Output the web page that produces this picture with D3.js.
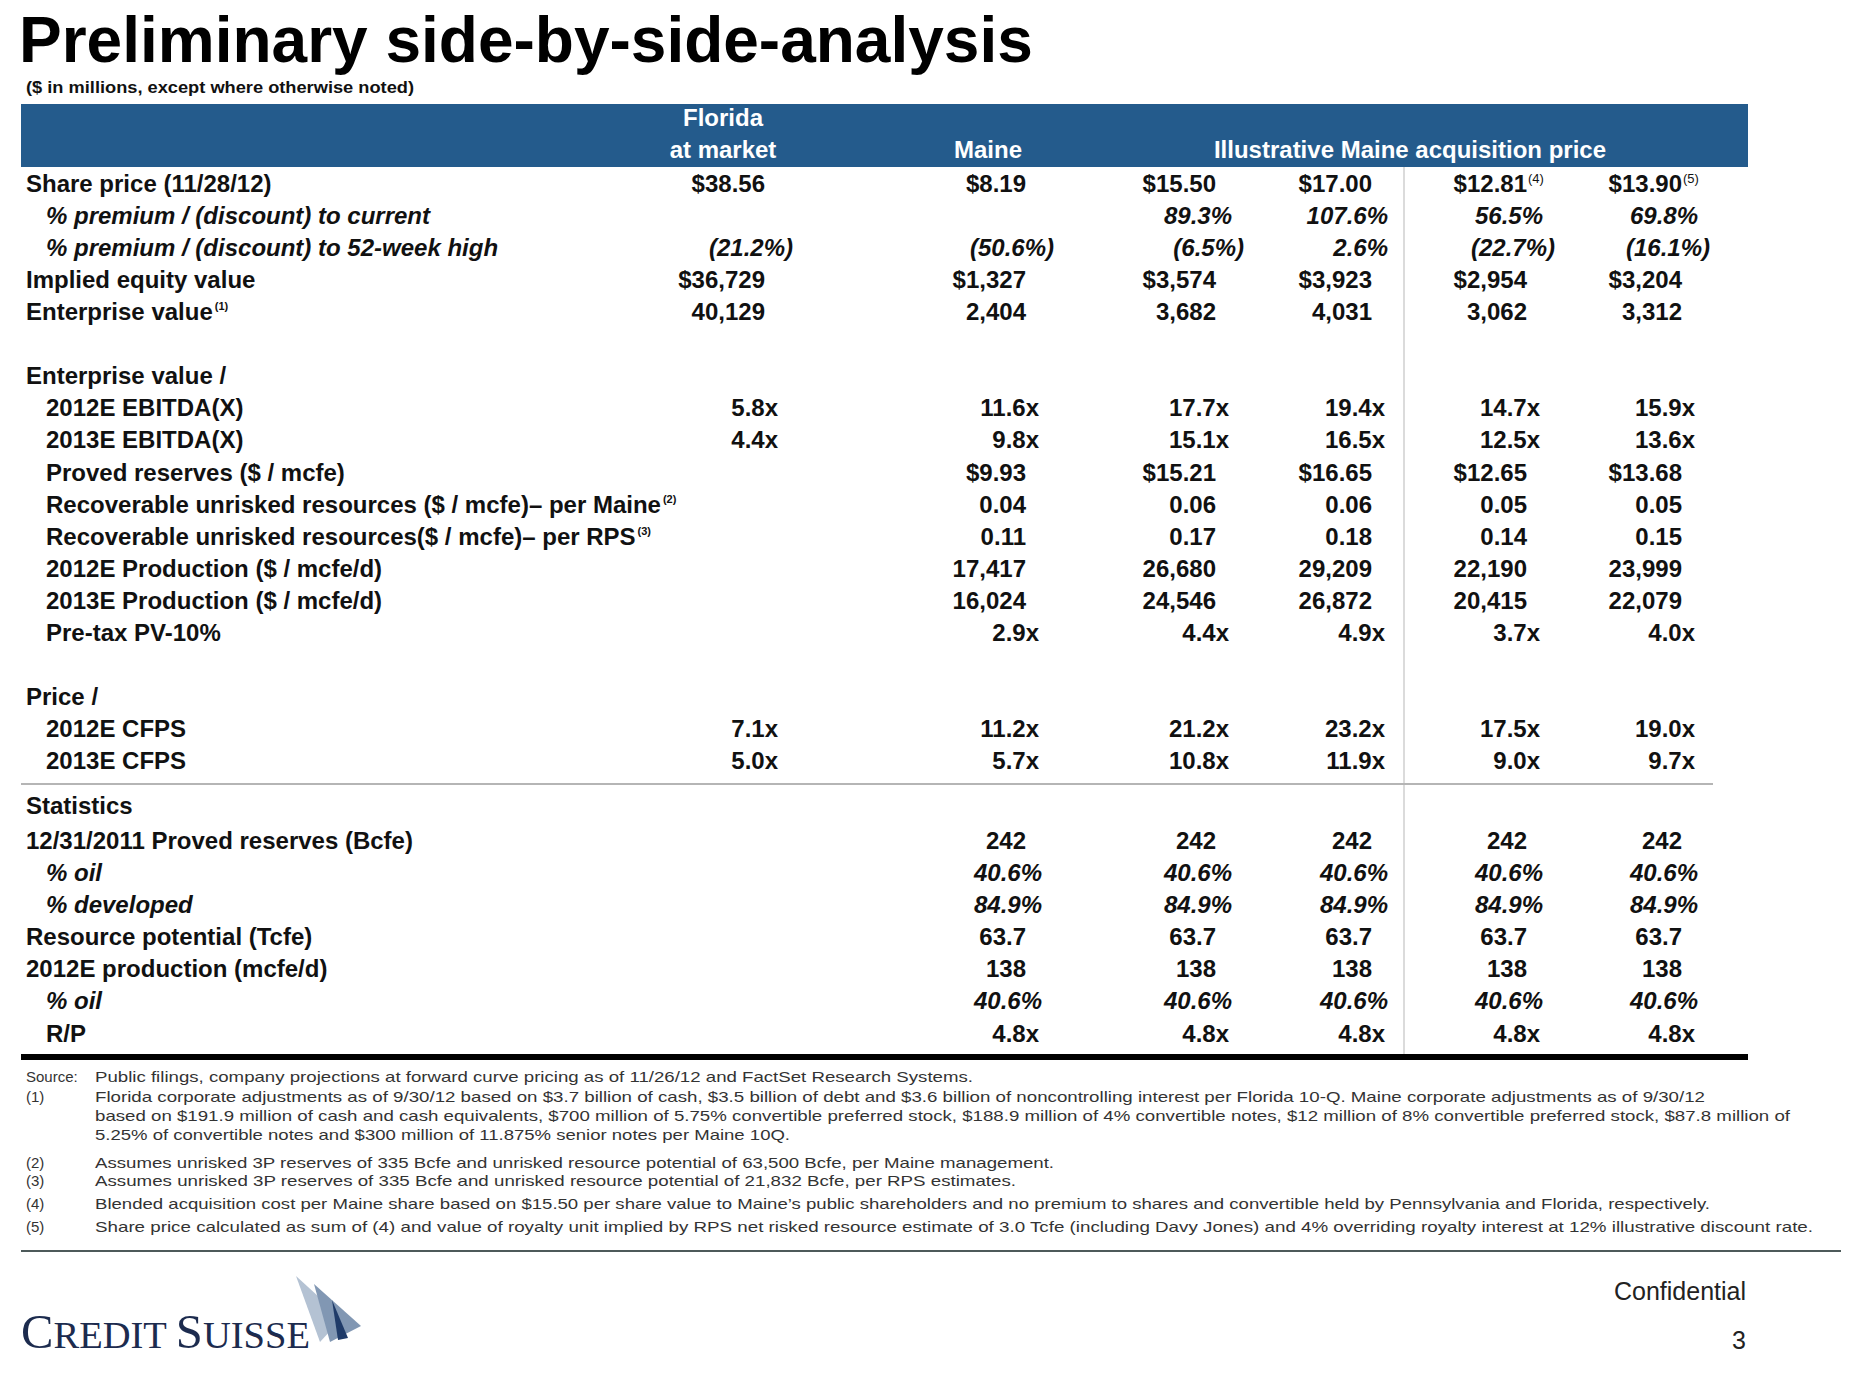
<!DOCTYPE html>
<html>
<head>
<meta charset="utf-8">
<script src="https://cdn.jsdelivr.net/npm/d3@7"></script>
<style>
  body { margin: 0; background: #fff; }
  svg { display: block; font-family: "Liberation Sans", Arial, sans-serif; }
</style>
</head>
<body>
<svg id="chart"></svg>
<script>
// ---- data ----
const rowLabels = [
    "Share price (11/28/12)",
    "% premium / (discount) to current",
    "% premium / (discount) to 52-week high",
    "Implied equity value",
    "Enterprise value",
    "Enterprise value /",
    "2012E EBITDA(X)",
    "2013E EBITDA(X)",
    "Proved reserves ($ / mcfe)",
    "Recoverable unrisked resources ($ / mcfe)\u2013 per Maine",
    "Recoverable unrisked resources($ / mcfe)\u2013 per RPS",
    "2012E Production ($ / mcfe/d)",
    "2013E Production ($ / mcfe/d)",
    "Pre-tax PV-10%",
    "Price /",
    "2012E CFPS",
    "2013E CFPS",
    "Statistics",
    "12/31/2011 Proved reserves (Bcfe)",
    "% oil",
    "% developed",
    "Resource potential (Tcfe)",
    "2012E production (mcfe/d)",
    "% oil",
    "R/P"
];
const rowNotes = { 4: "(1)", 9: "(2)", 10: "(3)" };
const rowFormats = ["usd2", "pct", "pctParen", "usd0", "int", null, "mult", "mult", "usd2", "dec2", "dec2",
    "int", "int", "mult", null, "mult", "mult", null, "int", "pct", "pct", "dec1", "int", "pct", "mult"];

const columnKeys = ["florida", "maine", "p1550", "p1700", "p1281", "p1390"];

const floridaValues = [38.56, null, -21.2, 36729, 40129, null, 5.8, 4.4, null, null, null, null, null, null,
    null, 7.1, 5.0, null, null, null, null, null, null, null, null];
const maineValues = [8.19, null, -50.6, 1327, 2404, null, 11.6, 9.8, 9.93, 0.04, 0.11, 17417, 16024, 2.9,
    null, 11.2, 5.7, null, 242, 40.6, 84.9, 63.7, 138, 40.6, 4.8];
const p1550Values = [15.50, 89.3, -6.5, 3574, 3682, null, 17.7, 15.1, 15.21, 0.06, 0.17, 26680, 24546, 4.4,
    null, 21.2, 10.8, null, 242, 40.6, 84.9, 63.7, 138, 40.6, 4.8];
const p1700Values = [17.00, 107.6, 2.6, 3923, 4031, null, 19.4, 16.5, 16.65, 0.06, 0.18, 29209, 26872, 4.9,
    null, 23.2, 11.9, null, 242, 40.6, 84.9, 63.7, 138, 40.6, 4.8];
const p1281Values = [12.81, 56.5, -22.7, 2954, 3062, null, 14.7, 12.5, 12.65, 0.05, 0.14, 22190, 20415, 3.7,
    null, 17.5, 9.0, null, 242, 40.6, 84.9, 63.7, 138, 40.6, 4.8];
const p1390Values = [13.90, 69.8, -16.1, 3204, 3312, null, 15.9, 13.6, 13.68, 0.05, 0.15, 23999, 22079, 4.0,
    null, 19.0, 9.7, null, 242, 40.6, 84.9, 63.7, 138, 40.6, 4.8];
const valueNotes = { p1281: "(4)", p1390: "(5)" };

const footnotes = [
    ["Source:", "Public filings, company projections at forward curve pricing as of 11/26/12 and FactSet Research Systems."],
    ["(1)", "Florida corporate adjustments as of 9/30/12 based on $3.7 billion of cash, $3.5 billion of debt and $3.6 billion of noncontrolling interest per Florida 10-Q. Maine corporate adjustments as of 9/30/12"],
    ["", "based on $191.9 million of cash and cash equivalents, $700 million of 5.75% convertible preferred stock, $188.9 million of 4% convertible notes, $12 million of 8% convertible preferred stock, $87.8 million of"],
    ["", "5.25% of convertible notes and $300 million of 11.875% senior notes per Maine 10Q."],
    ["(2)", "Assumes unrisked 3P reserves of 335 Bcfe and unrisked resource potential of 63,500 Bcfe, per Maine management."],
    ["(3)", "Assumes unrisked 3P reserves of 335 Bcfe and unrisked resource potential of 21,832 Bcfe, per RPS estimates."],
    ["(4)", "Blended acquisition cost per Maine share based on $15.50 per share value to Maine\u2019s public shareholders and no premium to shares and convertible held by Pennsylvania and Florida, respectively."],
    ["(5)", "Share price calculated as sum of (4) and value of royalty unit implied by RPS net risked resource estimate of 3.0 Tcfe (including Davy Jones) and 4% overriding royalty interest at 12% illustrative discount rate."]
];

// ---- layout ----
const width = 1856, height = 1395;
const rowSlot = [0, 1, 2, 3, 4, 6, 7, 8, 9, 10, 11, 12, 13, 14, 16, 17, 18, 19.4, 20.5, 21.5, 22.5, 23.5, 24.5, 25.5, 26.5];
const indented = [1, 2, 6, 7, 8, 9, 10, 11, 12, 13, 15, 16, 19, 20, 23, 24];
const italicRows = [1, 2, 19, 20, 23];
const footY = [1082, 1102, 1121, 1140, 1168, 1186, 1209, 1232];
const footEnd = [973, 1705, 1790, 790, 1054, 1016, 1710, 1813];

const values = { florida: floridaValues, maine: maineValues, p1550: p1550Values,
    p1700: p1700Values, p1281: p1281Values, p1390: p1390Values };

const y = d3.scaleLinear().domain([0, 26.5]).range([183.5, 1033]);
const colRight = d3.scaleOrdinal().domain(columnKeys).range([778, 1039, 1229, 1385, 1540, 1695]);

const fmt = {
    usd2: v => "$" + d3.format(",.2f")(v),
    usd0: v => "$" + d3.format(",")(v),
    int: d3.format(","),
    pct: v => d3.format(".1f")(v) + "%",
    pctParen: v => v < 0 ? "(" + d3.format(".1f")(-v) + "%)" : d3.format(".1f")(v) + "%",
    mult: v => d3.format(".1f")(v) + "x",
    dec2: d3.format(".2f"),
    dec1: d3.format(".1f")
};
function offset(f, v) {
    if (f === "mult") return 0;
    if (f === "pct") return 3;
    if (f === "pctParen") return v < 0 ? 15 : 3;
    return -13;
}

const svg = d3.select("#chart").attr("width", width).attr("height", height);

// title block
svg.append("text").attr("x", 19).attr("y", 62)
    .attr("font-size", 64).attr("font-weight", "bold").attr("fill", "#000")
    .text("Preliminary side-by-side-analysis");
svg.append("text").attr("x", 26).attr("y", 93)
    .attr("font-size", 16).attr("font-weight", "bold").attr("fill", "#111")
    .attr("textLength", 388).attr("lengthAdjust", "spacingAndGlyphs")
    .text("($ in millions, except where otherwise noted)");

// header band
svg.append("rect").attr("x", 21).attr("y", 104).attr("width", 1727).attr("height", 63).attr("fill", "#245b8c");
const head = svg.append("g").attr("fill", "#fff").attr("font-weight", "bold").attr("font-size", 24)
    .attr("text-anchor", "middle");
head.append("text").attr("x", 723).attr("y", 126).text("Florida");
head.append("text").attr("x", 723).attr("y", 158).text("at market");
head.append("text").attr("x", 988).attr("y", 158).text("Maine");
head.append("text").attr("x", 1410).attr("y", 158).text("Illustrative Maine acquisition price");

// rules
svg.append("line").attr("x1", 1404).attr("x2", 1404).attr("y1", 167).attr("y2", 1054)
    .attr("stroke", "#cfcfcf").attr("stroke-width", 1.5);
svg.append("line").attr("x1", 21).attr("x2", 1713).attr("y1", 784).attr("y2", 784)
    .attr("stroke", "#b5b5b5").attr("stroke-width", 2);
svg.append("line").attr("x1", 21).attr("x2", 1748).attr("y1", 1057).attr("y2", 1057)
    .attr("stroke", "#000").attr("stroke-width", 6);

// row labels
const labels = svg.append("g").attr("font-size", 24).attr("font-weight", "bold").attr("fill", "#111");
labels.selectAll("text")
    .data(rowLabels)
    .join("text")
    .attr("x", (d, i) => indented.includes(i) ? 46 : 26)
    .attr("y", (d, i) => y(rowSlot[i]) + 8.5)
    .attr("font-style", (d, i) => italicRows.includes(i) ? "italic" : null)
    .each(function (d, i) {
        const t = d3.select(this);
        t.append("tspan").text(d);
        if (rowNotes[i]) {
            t.append("tspan").attr("font-size", 11).attr("dy", -10).attr("dx", 2).text(rowNotes[i]);
        }
    });

// values
const cells = [];
columnKeys.forEach(c => {
    values[c].forEach((v, i) => {
        if (v !== null && rowFormats[i]) cells.push({ col: c, row: i, v: v });
    });
});
const body = svg.append("g").attr("font-size", 24).attr("font-weight", "bold").attr("fill", "#111")
    .attr("text-anchor", "end");
body.selectAll("text")
    .data(cells)
    .join("text")
    .attr("x", d => colRight(d.col) + offset(rowFormats[d.row], d.v))
    .attr("y", d => y(rowSlot[d.row]) + 8.5)
    .attr("font-style", d => italicRows.includes(d.row) ? "italic" : null)
    .text(d => fmt[rowFormats[d.row]](d.v));

// superscripts on share price
body.selectAll("text.note")
    .data(Object.keys(valueNotes))
    .join("text")
    .attr("class", "note")
    .attr("text-anchor", "start")
    .attr("font-size", 13)
    .attr("font-weight", "normal")
    .attr("x", c => colRight(c) - 12)
    .attr("y", y(0) - 1)
    .text(c => valueNotes[c]);

// footnotes
const foot = svg.append("g").attr("font-size", 15).attr("fill", "#333");
foot.selectAll("text.lab")
    .data(footnotes)
    .join("text")
    .attr("class", "lab")
    .attr("x", 26)
    .attr("y", (d, i) => footY[i])
    .text(d => d[0]);
foot.selectAll("text.txt")
    .data(footnotes)
    .join("text")
    .attr("class", "txt")
    .attr("x", 95)
    .attr("y", (d, i) => footY[i])
    .attr("textLength", (d, i) => footEnd[i] - 95)
    .attr("lengthAdjust", "spacingAndGlyphs")
    .text(d => d[1]);

// footer
svg.append("line").attr("x1", 21).attr("x2", 1841).attr("y1", 1251).attr("y2", 1251)
    .attr("stroke", "#4d5a5a").attr("stroke-width", 2);

const logo = svg.append("g");
logo.append("path").attr("d", "M296,1276 L342,1318 L320,1342 Z").attr("fill", "#b4c2d3");
logo.append("path").attr("d", "M314,1284 L361,1326 L330,1342 Z").attr("fill", "#8197b3");
logo.append("path").attr("d", "M332,1300 L348,1338 L338,1340 Z").attr("fill", "#1f3b69");
const brand = logo.append("text").attr("x", 21).attr("y", 1348)
    .attr("font-family", "'Liberation Serif', 'Times New Roman', serif").attr("fill", "#1c2b4e")
    .attr("textLength", 289).attr("lengthAdjust", "spacingAndGlyphs");
brand.append("tspan").attr("font-size", 48).text("C");
brand.append("tspan").attr("font-size", 38).text("REDIT ");
brand.append("tspan").attr("font-size", 48).text("S");
brand.append("tspan").attr("font-size", 38).text("UISSE");

svg.append("text").attr("x", 1746).attr("y", 1300).attr("text-anchor", "end")
    .attr("font-size", 25).attr("fill", "#222").text("Confidential");
svg.append("text").attr("x", 1746).attr("y", 1349).attr("text-anchor", "end")
    .attr("font-size", 25).attr("fill", "#222").text("3");
</script>
</body>
</html>
